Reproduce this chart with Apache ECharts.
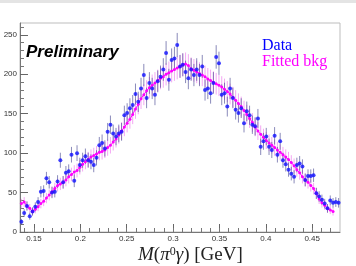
<!DOCTYPE html>
<html>
<head>
<meta charset="utf-8">
<script src="https://cdn.jsdelivr.net/npm/echarts@6/dist/echarts.min.js"></script>
<style>
html,body{margin:0;padding:0;background:#fff;}
#chart{width:356px;height:266px;}
</style>
</head>
<body>
<div id="chart"></div>
<script>
// Bin centers of M(pi0 gamma) [GeV]
const binCenters = [0.1365,0.1395,0.1425,0.1455,0.1485,0.1515,0.1545,0.1575,0.1605,0.1635,
0.1665,0.1695,0.1725,0.1755,0.1785,0.1815,0.1845,0.1875,0.1905,0.1935,
0.1965,0.1995,0.2025,0.2055,0.2085,0.2115,0.2145,0.2175,0.2205,0.2235,
0.2265,0.2295,0.2325,0.2355,0.2385,0.2415,0.2445,0.2475,0.2505,0.2535,
0.2565,0.2595,0.2625,0.2655,0.2685,0.2715,0.2745,0.2775,0.2805,0.2835,
0.2865,0.2895,0.2925,0.2955,0.2985,0.3015,0.3045,0.3075,0.3105,0.3135,
0.3165,0.3195,0.3225,0.3255,0.3285,0.3315,0.3345,0.3375,0.3405,0.3435,
0.3465,0.3495,0.3525,0.3555,0.3585,0.3615,0.3645,0.3675,0.3705,0.3735,
0.3765,0.3795,0.3825,0.3855,0.3885,0.3915,0.3945,0.3975,0.4005,0.4035,
0.4065,0.4095,0.4125,0.4155,0.4185,0.4215,0.4245,0.4275,0.4305,0.4335,
0.4365,0.4395,0.4425,0.4455,0.4485,0.4515,0.4545,0.4575,0.4605,0.4635,
0.4665,0.4695,0.4725,0.4755,0.4785];

// Data counts per bin
const dataCounts = [13,24,33,20,26,32,38,51,52,68,
63,50,51,64,91,63,75,77,98,65,
100,85,91,96,91,89,85,94,110,113,
106,127,136,125,121,125,127,148,151,157,
161,175,165,182,199,170,189,182,174,191,
197,206,227,193,218,220,237,210,212,203,
195,206,199,206,199,210,180,182,176,189,
222,214,174,176,159,182,170,155,151,157,
138,153,148,136,134,144,108,115,121,108,
104,122,98,115,91,86,79,74,70,85,
87,83,66,71,71,72,49,45,41,36,
30,40,37,38,37];

// Fitted background per bin
const bkgCounts = [36,38,33,30,26,29,32,36,39,43,
47,51,55,59,61,63,66,70,73,76,
78,82,86,89,92,95,97,99,101,102,
104,107,110,114,118,123,128,133,138,143,
149,156,162,169,174,179,183,186,189,192,
195,197,200,202,204,206,208,210,212,213,
211,207,205,203,201,199,197,194,192,190,
188,186,184,181,178,175,171,167,163,159,
154,149,144,139,133,128,124,120,116,113,
110,107,104,101,98,95,92,88,84,79,
75,70,66,63,59,55,49,42,37,34,
30,28,26];

const xMajorTicks = [0.15,0.2,0.25,0.3,0.35,0.4,0.45];
const xMinorTicks = [0.14,0.15,0.16,0.17,0.18,0.19,0.2,0.21,0.22,0.23,0.24,0.25,0.26,0.27,0.28,0.29,0.3,0.31,0.32,0.33,0.34,0.35,0.36,0.37,0.38,0.39,0.4,0.41,0.42,0.43,0.44,0.45,0.46,0.47];
const yMajorTicks = [0,50,100,150,200,250];
const yMinorTicks = [10,20,30,40,60,70,80,90,110,120,130,140,160,170,180,190,210,220,230,240,260];

const dataPts = binCenters.map((x,i)=>[x, dataCounts[i], Math.sqrt(dataCounts[i])]);
const bkgPts = bkgCounts.map((y,i)=>[binCenters[i], y, Math.sqrt(y)]);

function errRender(color){
  return function(params, api){
    const x = api.value(0), y = api.value(1), e = api.value(2);
    const p1 = api.coord([x, y - e]);
    const p2 = api.coord([x, y + e]);
    return {type:'line', shape:{x1:p1[0], y1:p1[1], x2:p2[0], y2:p2[1]},
      style:{stroke:color, lineWidth:1}, silent:true};
  };
}

const chart = echarts.init(document.getElementById('chart'), null, {renderer:'canvas'});
const sans = 'Liberation Sans, Arial, sans-serif';
const serif = 'Liberation Serif, Times New Roman, serif';

chart.setOption({
  animation:false,
  backgroundColor:'#ffffff',
  grid:{left:20, right:16, top:23, bottom:34, show:true, borderColor:'#bdbdbd', borderWidth:1, backgroundColor:'transparent'},
  xAxis:[{
    type:'value', min:0.135, max:0.48, gridIndex:0,
    axisLine:{show:true, onZero:false, lineStyle:{color:'#777', width:1}},
    axisTick:{show:true, inside:true, length:8, customValues:xMajorTicks, lineStyle:{color:'#666'}},
    axisLabel:{show:true, customValues:xMajorTicks, margin:3, fontSize:8, color:'#333', fontFamily:sans,
      formatter:(v)=>String(Math.round(v*100)/100)},
    splitLine:{show:false}
  },{
    type:'value', min:0.135, max:0.48, gridIndex:0, position:'bottom',
    axisLine:{show:false},
    axisTick:{show:true, inside:true, length:4, customValues:xMinorTicks, lineStyle:{color:'#777'}},
    axisLabel:{show:false}, splitLine:{show:false}
  }],
  yAxis:[{
    type:'value', min:0, max:265, gridIndex:0,
    axisLine:{show:true, onZero:false, lineStyle:{color:'#777', width:1}},
    axisTick:{show:true, inside:true, length:8, customValues:yMajorTicks, lineStyle:{color:'#666'}},
    axisLabel:{show:true, customValues:yMajorTicks, margin:3, fontSize:8, color:'#333', fontFamily:sans},
    splitLine:{show:false}
  },{
    type:'value', min:0, max:265, gridIndex:0, position:'left',
    axisLine:{show:false},
    axisTick:{show:true, inside:true, length:4, customValues:yMinorTicks, lineStyle:{color:'#777'}},
    axisLabel:{show:false}, splitLine:{show:false}
  }],
  series:[
    {type:'custom', name:'bkgErr', xAxisIndex:0, yAxisIndex:0, data:bkgPts,
      renderItem:errRender('rgba(235,110,235,0.6)'), z:1},
    {type:'custom', name:'dataErr', xAxisIndex:0, yAxisIndex:0, data:dataPts,
      renderItem:errRender('rgba(60,60,140,0.6)'), z:2},
    {type:'line', name:'Fitted bkg', xAxisIndex:0, yAxisIndex:0, data:bkgPts.map(p=>[p[0],p[1]]),
      symbol:'circle', symbolSize:3, showSymbol:true, lineStyle:{color:'#ff00ff', width:1},
      itemStyle:{color:'#ff00ff'}, z:3},
    {type:'scatter', name:'Data', xAxisIndex:0, yAxisIndex:0, data:dataPts.map(p=>[p[0],p[1]]),
      symbol:'circle', symbolSize:4, itemStyle:{color:'#1010ff'}, z:4}
  ],
  graphic:[
    {type:'rect', shape:{x:0, y:0, width:356, height:3}, style:{fill:'#e4e4e4'}, silent:true},
    {type:'text', x:26, y:52, style:{text:'Preliminary', fill:'#000', fontFamily:sans, fontSize:17,
      fontWeight:'bold', fontStyle:'italic', align:'left', verticalAlign:'middle'}},
    {type:'text', x:262, y:46, style:{text:'Data', fill:'#0000ff', fontFamily:serif, fontSize:16,
      align:'left', verticalAlign:'middle'}},
    {type:'text', x:262, y:62, style:{text:'Fitted bkg', fill:'#ff00ff', fontFamily:serif, fontSize:16,
      align:'left', verticalAlign:'middle'}},
    {type:'text', x:138, y:255, style:{
      text:'{i|M}{n|(}{i|π}{s|0}{i|γ}{n|) [GeV]}',
      fill:'#222', fontFamily:serif, fontSize:19, align:'left', verticalAlign:'middle',
      rich:{
        i:{fontFamily:serif, fontSize:19, fontStyle:'italic', fill:'#222'},
        n:{fontFamily:serif, fontSize:19, fill:'#222'},
        s:{fontFamily:serif, fontSize:12, fill:'#222', verticalAlign:'top'}
      }}}
  ]
});
</script>
</body>
</html>
